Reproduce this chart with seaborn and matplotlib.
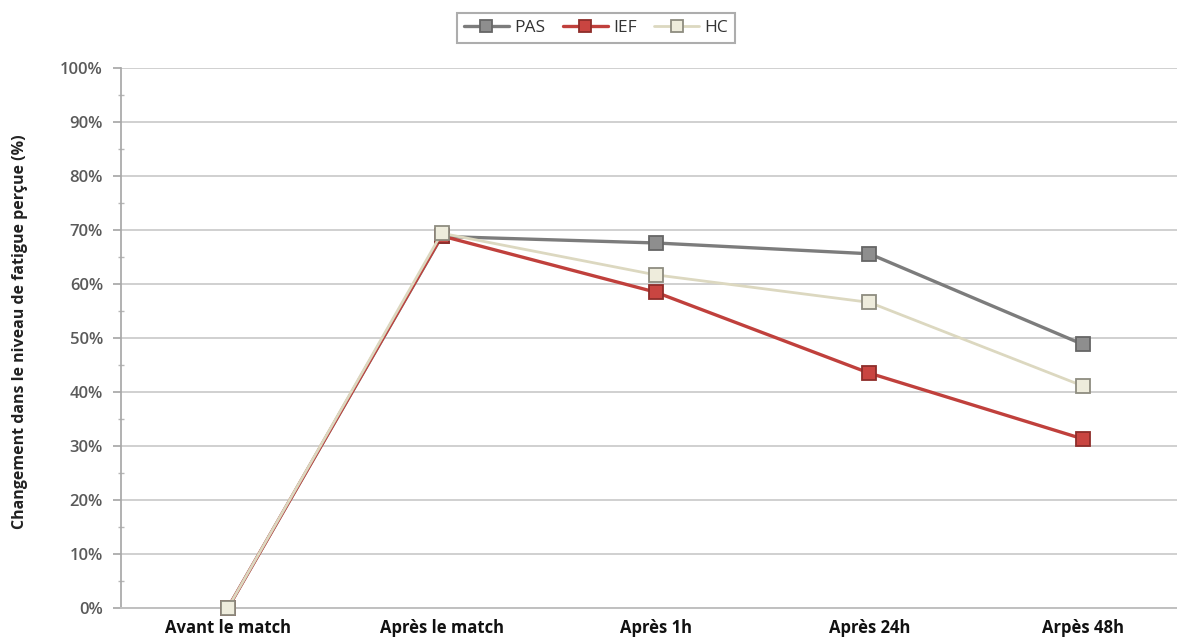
import matplotlib
matplotlib.use("Agg")
import matplotlib.pyplot as plt
from matplotlib.ticker import MultipleLocator, FixedLocator, PercentFormatter
import pandas as pd
import seaborn as sns

# Fatigue perçue : évolution relative selon le protocole de récupération
moments = ["Avant le match", "Après le match", "Après 1h", "Après 24h", "Arpès 48h"]
pas = [0.0, 68.8, 67.6, 65.6, 48.8]
ief = [0.0, 68.9, 58.5, 43.5, 31.3]
hc = [0.0, 69.4, 61.7, 56.6, 41.1]

series = ["PAS", "IEF", "HC"]
values = {"PAS": pas, "IEF": ief, "HC": hc}
line_colors = {"PAS": "#7c7c7c", "IEF": "#c0403c", "HC": "#dcd8c0"}
line_widths = {"PAS": 2.4, "IEF": 2.4, "HC": 2.0}
face_colors = {"PAS": "#8e8e8e", "IEF": "#c94541", "HC": "#eeecdc"}
edge_colors = {"PAS": "#666666", "IEF": "#8e2d2a", "HC": "#8e8c80"}

df = pd.DataFrame(
    [(m, s, v) for s in series for m, v in zip(moments, values[s])],
    columns=["moment", "groupe", "valeur"],
)

sns.set_theme(style="white")
plt.rcParams["font.family"] = ["Open Sans", "DejaVu Sans"]

fig = plt.figure(figsize=(11.77, 6.42), dpi=100)
ax = fig.add_axes([121 / 1177, 34 / 642, 1069 / 1177, 540 / 642])

for s in series:
    sub = df[df["groupe"] == s]
    sns.lineplot(
        data=sub, x="moment", y="valeur", ax=ax, sort=False,
        color=line_colors[s], linewidth=line_widths[s], marker="s", markersize=10.5,
        markerfacecolor=face_colors[s], markeredgecolor=edge_colors[s],
        markeredgewidth=1.3, label=s, clip_on=False, zorder=3,
    )

ax.set_xlim(-0.5, 4.5)
ax.set_ylim(0, 100)
ax.yaxis.set_major_locator(MultipleLocator(10))
ax.yaxis.set_minor_locator(MultipleLocator(5))
ax.yaxis.set_major_formatter(PercentFormatter(decimals=0))
ax.grid(axis="y", which="major", color="#d0d0d0", linewidth=1.4)
ax.grid(axis="x", visible=False)
ax.set_axisbelow(True)

for side in ["top", "right"]:
    ax.spines[side].set_visible(False)
ax.spines["left"].set_color("#a8a8a8")
ax.spines["bottom"].set_color("#c0c0c0")
ax.spines["bottom"].set_linewidth(1.4)

ax.xaxis.set_minor_locator(FixedLocator([0.5, 1.5, 2.5, 3.5]))
ax.tick_params(axis="x", which="major", length=0, pad=8, labelsize=12,
               labelcolor="#111111")
ax.tick_params(axis="x", which="minor", length=5, color="#b0b0b0", direction="out")
ax.tick_params(axis="y", which="major", length=6, color="#a8a8a8", direction="out",
               left=True, labelsize=12, labelcolor="#5a5a5a", pad=7)
ax.tick_params(axis="y", which="minor", length=4, color="#b8b8b8", direction="inout",
               left=True)
for lbl in ax.get_xticklabels():
    lbl.set_fontweight("bold")
for lbl in ax.get_yticklabels():
    lbl.set_fontweight("semibold")

ax.set_xlabel("")
ax.set_ylabel("Changement dans le niveau de fatigue perçue (%)", fontsize=11.5,
              fontweight="bold", color="#222222")
ax.yaxis.set_label_coords((28 - 121) / 1069, (608 - 332) / 540)

leg = ax.legend(loc="center", bbox_to_anchor=((596 - 121) / 1069, (642 - 28 - 34) / 540),
                ncol=3, frameon=True, fontsize=12.5, handlelength=2.6,
                columnspacing=1.0, handletextpad=0.3, borderpad=0.4,
                fancybox=False, markerscale=0.85)
leg.get_frame().set_edgecolor("#999999")
leg.get_frame().set_linewidth(1.5)
for t in leg.get_texts():
    t.set_color("#333333")

fig.savefig("out.png", dpi=100)
